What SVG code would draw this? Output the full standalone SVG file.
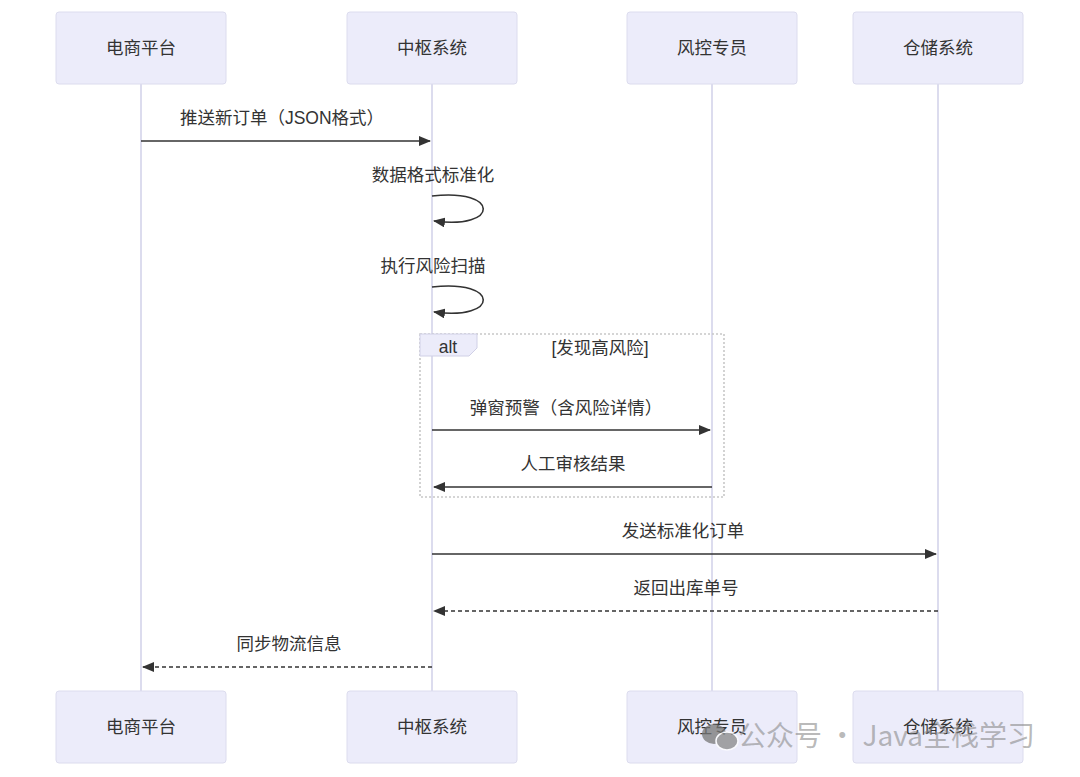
<svg xmlns="http://www.w3.org/2000/svg" width="1080" height="777" viewBox="0 0 1080 777">
<defs>
<style>
.actor{fill:#ececfa;stroke:#dcdcee;stroke-width:1}
.life{stroke:#d4d4ea;stroke-width:1.6}
.t{font-family:"Liberation Sans","Noto Sans CJK SC",sans-serif;font-size:17.5px;fill:#333;text-anchor:middle}
.msg{stroke:#333;stroke-width:1.6;fill:none}
.dash{stroke-dasharray:4 3}
.wm{font-family:"Noto Sans CJK SC","Liberation Sans",sans-serif;font-size:28px;fill:#8a8a8a;fill-opacity:0.8}
</style>
<marker id="ah" viewBox="0 0 12 10" refX="11" refY="5" markerWidth="12" markerHeight="10" markerUnits="userSpaceOnUse" orient="auto">
<path d="M0,0 L12,5 L0,10 z" fill="#333"/>
</marker>
</defs>
<rect width="1080" height="777" fill="#fff"/>
<g id="lifelines">
<line class="life" x1="141" y1="84" x2="141" y2="691"/>
<line class="life" x1="432" y1="84" x2="432" y2="691"/>
<line class="life" x1="712" y1="84" x2="712" y2="691"/>
<line class="life" x1="938" y1="84" x2="938" y2="691"/>
</g>
<g id="actor-ecom-top"><rect class="actor" x="56" y="12" width="170" height="72" rx="3"/><text class="t" x="141" y="54">电商平台</text></g>
<g id="actor-hub-top"><rect class="actor" x="347" y="12" width="170" height="72" rx="3"/><text class="t" x="432" y="54">中枢系统</text></g>
<g id="actor-risk-top"><rect class="actor" x="627" y="12" width="170" height="72" rx="3"/><text class="t" x="712" y="54">风控专员</text></g>
<g id="actor-wh-top"><rect class="actor" x="853" y="12" width="170" height="72" rx="3"/><text class="t" x="938" y="54">仓储系统</text></g>
<g id="actor-ecom-bot"><rect class="actor" x="56" y="691" width="170" height="72" rx="3"/><text class="t" x="141" y="733">电商平台</text></g>
<g id="actor-hub-bot"><rect class="actor" x="347" y="691" width="170" height="72" rx="3"/><text class="t" x="432" y="733">中枢系统</text></g>
<g id="actor-risk-bot"><rect class="actor" x="627" y="691" width="170" height="72" rx="3"/><text class="t" x="712" y="733">风控专员</text></g>
<g id="actor-wh-bot"><rect class="actor" x="853" y="691" width="170" height="72" rx="3"/><text class="t" x="938" y="733">仓储系统</text></g>
<g id="alt-frame">
<rect x="420" y="334" width="304" height="163" fill="none" stroke="#c8c8c8" stroke-width="1.6" stroke-dasharray="2 2"/>
<path d="M420,334 H477 V348 L469,356 H420 Z" fill="#ececfa" stroke="#d0d0e6" stroke-width="1"/>
<text class="t" x="448" y="353">alt</text>
<text class="t" x="600" y="354">[发现高风险]</text>
</g>
<g id="connectors">
<text class="t" x="282" y="124">推送新订单（JSON格式）</text>
<line class="msg" x1="141" y1="141" x2="430" y2="141" marker-end="url(#ah)"/>
<text class="t" x="433" y="181">数据格式标准化</text>
<path class="msg" d="M432,196 C500,188 500,230 434,221" marker-end="url(#ah)"/>
<text class="t" x="433" y="272">执行风险扫描</text>
<path class="msg" d="M432,287 C500,279 500,321 434,312" marker-end="url(#ah)"/>
<text class="t" x="566" y="414">弹窗预警（含风险详情）</text>
<line class="msg" x1="432" y1="430" x2="710" y2="430" marker-end="url(#ah)"/>
<text class="t" x="573" y="470">人工审核结果</text>
<line class="msg" x1="712" y1="487" x2="434" y2="487" marker-end="url(#ah)"/>
<text class="t" x="683" y="537">发送标准化订单</text>
<line class="msg" x1="432" y1="554" x2="936" y2="554" marker-end="url(#ah)"/>
<text class="t" x="686" y="594">返回出库单号</text>
<line class="msg dash" x1="938" y1="611" x2="434" y2="611" marker-end="url(#ah)"/>
<text class="t" x="289" y="650">同步物流信息</text>
<line class="msg dash" x1="432" y1="667" x2="143" y2="667" marker-end="url(#ah)"/>
</g>
<g id="watermark" opacity="0.75">
<ellipse cx="714" cy="734" rx="12" ry="10" fill="#777"/>
<ellipse cx="727" cy="741" rx="11" ry="9" fill="#888" stroke="#fff" stroke-width="1.5"/>
<text class="wm" x="738" y="746">公众号 · Java全栈学习</text>
</g>
</svg>
